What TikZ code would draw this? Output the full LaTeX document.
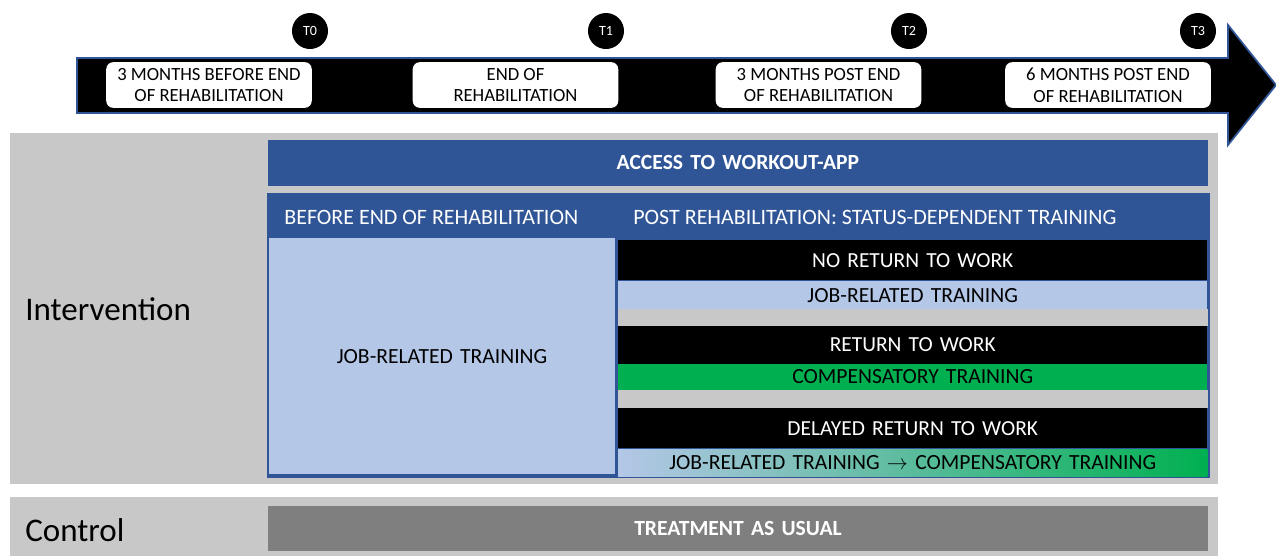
\documentclass[tikz,border=0pt]{standalone}
\usepackage{fontspec}
\setmainfont{Carlito}
\usepackage{tikz}

\definecolor{appblue}{HTML}{2F5597}
\definecolor{lightblue}{HTML}{B4C7E7}
\definecolor{panelgrey}{HTML}{C8C8C8}
\definecolor{tauggrey}{HTML}{7F7F7F}
\definecolor{compgreen}{HTML}{00B050}

\begin{document}
\begin{tikzpicture}[x=0.02cm, y=-0.02cm]
\tikzstyle{stamp} = [fill=black, circle, inner sep=0pt, minimum size=20.5pt, text=white, font=\fontsize{8}{9}\selectfont]
\tikzstyle{datebox} = [fill=white, rounded corners=4pt, minimum width=117pt, minimum height=26pt, inner sep=0pt, align=center, font=\fontsize{10.6}{12.5}\selectfont]
\tikzstyle{bar} = [anchor=north west, inner sep=0pt, outer sep=0pt, text width=#1, align=center]
\tikzstyle{status} = [bar=335.5pt, fill=black, text=white, font=\fontsize{12.2}{14}\selectfont]
\tikzstyle{train} = [bar=335.5pt, font=\fontsize{12.3}{14}\selectfont]

\useasboundingbox (0,0) rectangle (1276,556);

% time line
\draw[appblue, fill=black, line width=1pt]
(77,58) -- (1228,58) -- (1228,25) -- (1276,85) -- (1228,145) -- (1228,113) -- (77,113) -- cycle;

\node[stamp] (t0) at (310,31) {T0};
\node[stamp] (t1) at (606,31) {T1};
\node[stamp] (t2) at (909,31) {T2};
\node[stamp] (t3) at (1198,31) {T3};

\node[datebox] (d0) at (209,85) {3 MONTHS BEFORE END\\OF REHABILITATION};
\node[datebox] (d1) at (515.5,85) {END OF\\REHABILITATION};
\node[datebox] (d2) at (818.5,85) {3 MONTHS POST END\\OF REHABILITATION};
\node[datebox] (d3) at (1108,85) {6 MONTHS POST END\\OF REHABILITATION};

% intervention group
\fill[panelgrey] (10,133) rectangle (1218,484);
\node[anchor=west, inner sep=0pt, font=\fontsize{18.8}{21}\selectfont] (interv) at (25,309) {Intervention};

\node[bar=535pt, fill=appblue, text=white, minimum height=26pt, font=\bfseries\fontsize{12.3}{14}\selectfont] (app) at (268,140) {ACCESS TO WORKOUT-APP};

\draw[appblue, fill=appblue, line width=1pt] (268,194) rectangle (1209,477);
\node[anchor=west, inner sep=0pt, text=white, font=\fontsize{12.5}{14}\selectfont] (before) at (284,217) {BEFORE END OF REHABILITATION};
\node[anchor=west, inner sep=0pt, text=white, font=\fontsize{12.5}{14}\selectfont] (post) at (633,217) {POST REHABILITATION: STATUS-DEPENDENT TRAINING};

\node[bar=197pt, fill=lightblue, minimum height=134.5pt, font=\fontsize{12.3}{14}\selectfont] (jobleft) at (269,238) {JOB-RELATED TRAINING};

\fill[panelgrey] (618,309) rectangle (1208,326);
\fill[panelgrey] (618,390) rectangle (1208,408);

\node[status, minimum height=23pt] (noret) at (618,240) {NO RETURN TO WORK};
\node[train, fill=lightblue, minimum height=16pt] (jobno) at (618,281) {JOB-RELATED TRAINING};
\node[status, minimum height=21.5pt] (ret) at (618,326) {RETURN TO WORK};
\node[train, fill=compgreen, minimum height=14.7pt] (compret) at (618,364) {COMPENSATORY TRAINING};
\node[status, minimum height=23pt] (delay) at (618,408) {DELAYED RETURN TO WORK};
\node[train, left color=lightblue, right color=compgreen, minimum height=15.5pt] (jobcomp) at (618,449) {JOB-RELATED TRAINING $\rightarrow$ COMPENSATORY TRAINING};

% control group
\fill[panelgrey] (10,497) rectangle (1218,556);
\node[anchor=west, inner sep=0pt, font=\fontsize{18.8}{21}\selectfont] (ctrl) at (25,530) {Control};
\node[bar=535pt, fill=tauggrey, text=white, minimum height=25.5pt, font=\bfseries\fontsize{12.3}{14}\selectfont] (tau) at (268,506) {TREATMENT AS USUAL};

\end{tikzpicture}
\end{document}
